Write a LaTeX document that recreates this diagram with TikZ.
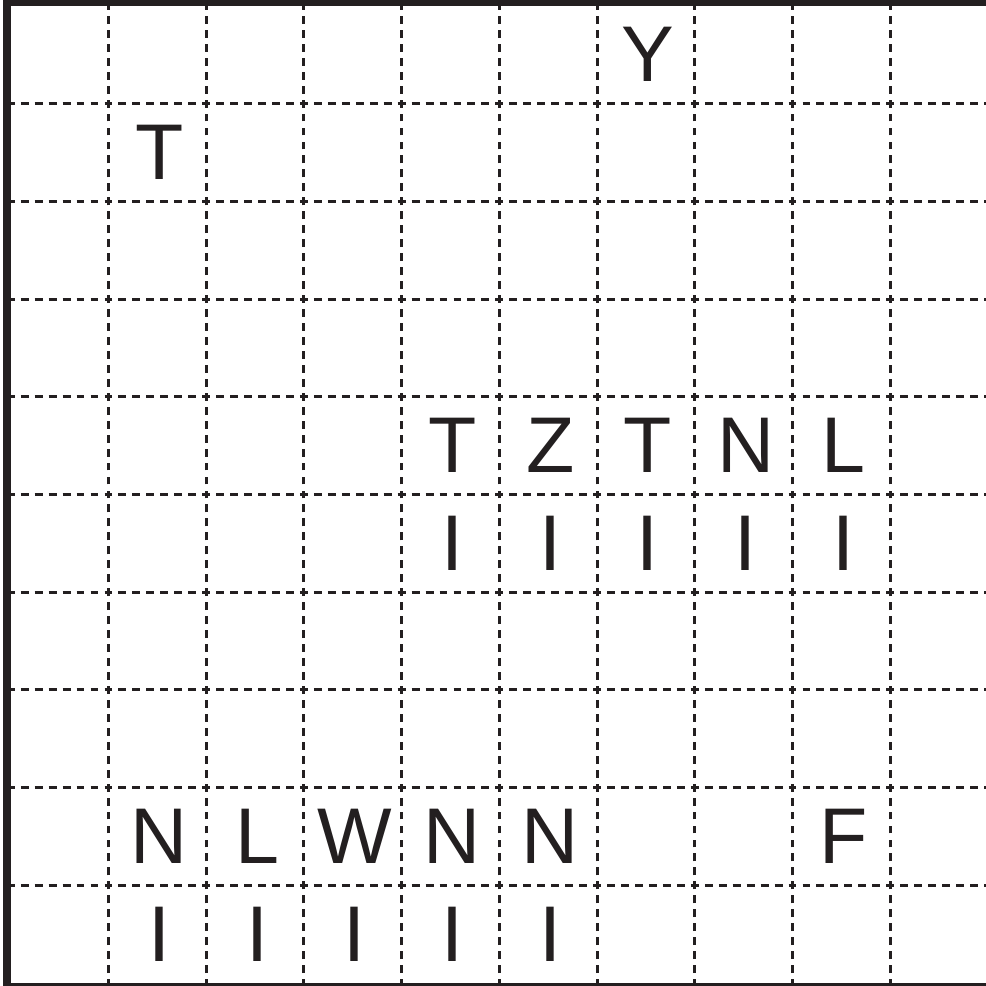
\documentclass[tikz,border=0pt]{standalone}
\usepackage{fontspec}
\setmainfont{Liberation Sans}
\usepackage{xcolor}
\definecolor{inkblack}{RGB}{35,31,32}

\begin{document}
\begin{tikzpicture}[
    gridln/.style={line width=0.87pt, inkblack, dash pattern=on 2.3pt off 1.7647pt, dash phase=1.15pt},
    frame/.style={line width=2.2pt, inkblack},
    cell/.style={inner sep=0pt, text=inkblack, font=\fontsize{23}{27}\selectfont}
]
\useasboundingbox (-0.11,-0.03) rectangle (9.98,10.06);
% dashed grid
\foreach \i in {1,...,9} {
  \draw[gridln] (\i,0) -- (\i,10);
  \draw[gridln] (0,\i) -- (10.2,\i);
}
% frame: top, left, bottom
\draw[frame] (10.2,10.038) -- (-0.038,10.038) -- (-0.038,-0.038) -- (10.2,-0.038);
% letters (column/row counted from top left)
\foreach \ltr/\c/\r in {Y/6/0, T/1/1,
    T/4/4, Z/5/4, T/6/4, N/7/4, L/8/4,
    N/1/8, L/2/8, W/3/8, N/4/8, N/5/8, F/8/8}
  \node[cell] (l\c-\r) at (\c+0.52,9.5-\r) {\ltr};
\foreach \c in {4,...,8}
  \node[cell] (l\c-5) at (\c+0.52,4.5) {I};
\foreach \c in {1,...,5}
  \node[cell] (l\c-9) at (\c+0.52,0.5) {I};
\end{tikzpicture}
\end{document}
